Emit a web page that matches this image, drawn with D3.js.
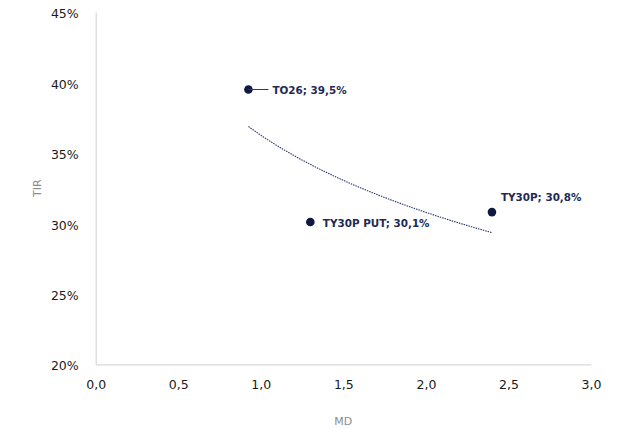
<!DOCTYPE html>
<html><head><meta charset="utf-8">
<script src="https://cdn.jsdelivr.net/npm/d3@7"></script>
<style>
html,body{margin:0;padding:0;background:#fff;}
svg{display:block;}
</style></head>
<body><div id="chart"></div>
<script>
const names = ["TO26", "TY30P PUT", "TY30P"];
const mdValues = [0.925, 1.30, 2.40];
const tirValues = [0.395, 0.301, 0.308];
const xTicks = [0, 0.5, 1.0, 1.5, 2.0, 2.5, 3.0];
const yTicks = [0.20, 0.25, 0.30, 0.35, 0.40, 0.45];

const W = 621, H = 428;
const svg = d3.select("#chart").append("svg").attr("width", W).attr("height", H);

const x = d3.scaleLinear().domain([0, 3]).range([95.7, 591]);
const y = d3.scaleLinear().domain([0.20, 0.45]).range([364.3, 12]);

const fmtX = d => d.toFixed(1).replace(".", ",");
const fmtY = d => Math.round(d * 100) + "%";
const fmtLab = d => (d * 100).toFixed(1).replace(".", ",") + "%";

const font = "'DejaVu Sans', 'Open Sans', sans-serif";

// axes
const xa = svg.append("g").attr("transform", `translate(0,${y(0.20)})`)
  .call(d3.axisBottom(x).tickValues(xTicks).tickFormat(fmtX).tickSize(0).tickPadding(16));
const ya = svg.append("g").attr("transform", `translate(${x(0)},0)`)
  .call(d3.axisLeft(y).tickValues(yTicks).tickFormat(fmtY).tickSize(0).tickPadding(17));
[xa, ya].forEach(g => {
  g.select(".domain").attr("stroke", "#d9d9d9").attr("stroke-width", 1.3);
  g.selectAll("text").attr("fill", "#1a1a1a").style("font-family", font).style("font-size", "12.5px");
});
ya.selectAll("text").attr("dy", "0.45em");

// axis titles
svg.append("text").attr("x", (x(0) + x(3)) / 2).attr("y", 425)
  .attr("text-anchor", "middle").attr("fill", "#8c8c8c")
  .style("font-family", font).style("font-size", "11px").text("MD");
svg.append("text").attr("transform", `translate(41,${(y(0.2) + y(0.45)) / 2}) rotate(-90)`)
  .attr("text-anchor", "middle").attr("fill", "#8c8c8c")
  .style("font-family", font).style("font-size", "11px").text("TIR");

// logarithmic trendline (least squares fit of tir on ln(md))
const lx = mdValues.map(Math.log);
const mLx = d3.mean(lx), mY = d3.mean(tirValues);
let sxy = 0, sxx = 0;
lx.forEach((v, i) => { sxy += (v - mLx) * (tirValues[i] - mY); sxx += (v - mLx) ** 2; });
const b = sxy / sxx, a = mY - b * mLx;
const x0 = d3.min(mdValues), x1 = d3.max(mdValues);
const trend = d3.range(0, 101).map(i => { const xv = x0 + (x1 - x0) * i / 100; return [xv, a + b * Math.log(xv)]; });
svg.append("path").datum(trend)
  .attr("d", d3.line().x(d => x(d[0])).y(d => y(d[1])))
  .attr("fill", "none").attr("stroke", "#2b3370").attr("stroke-width", 1.1)
  .attr("stroke-dasharray", "1.5,1");

// points
const data = names.map((n, i) => ({name: n, md: mdValues[i], tir: tirValues[i]}));
svg.selectAll("circle.pt").data(data).enter().append("circle")
  .attr("cx", d => x(d.md)).attr("cy", d => y(d.tir)).attr("r", 4.3)
  .attr("fill", "#111840");

// labels
const offs = [{dx: 24, dy: 4, leader: true}, {dx: 12.5, dy: 5.5, leader: false}, {dx: 9, dy: -11, leader: false}];
data.forEach((d, i) => {
  const o = offs[i];
  if (o.leader) {
    svg.append("line").attr("x1", x(d.md)).attr("y1", y(d.tir))
      .attr("x2", x(d.md) + o.dx - 4).attr("y2", y(d.tir))
      .attr("stroke", "#3a3a3a").attr("stroke-width", 1);
  }
  svg.append("text").attr("x", x(d.md) + o.dx).attr("y", y(d.tir) + o.dy)
    .attr("fill", "#1f2a55").style("font-family", font).style("font-size", "10.4px")
    .style("font-weight", "bold").text(d.name + "; " + fmtLab(d.tir));
});
</script>
</body></html>
